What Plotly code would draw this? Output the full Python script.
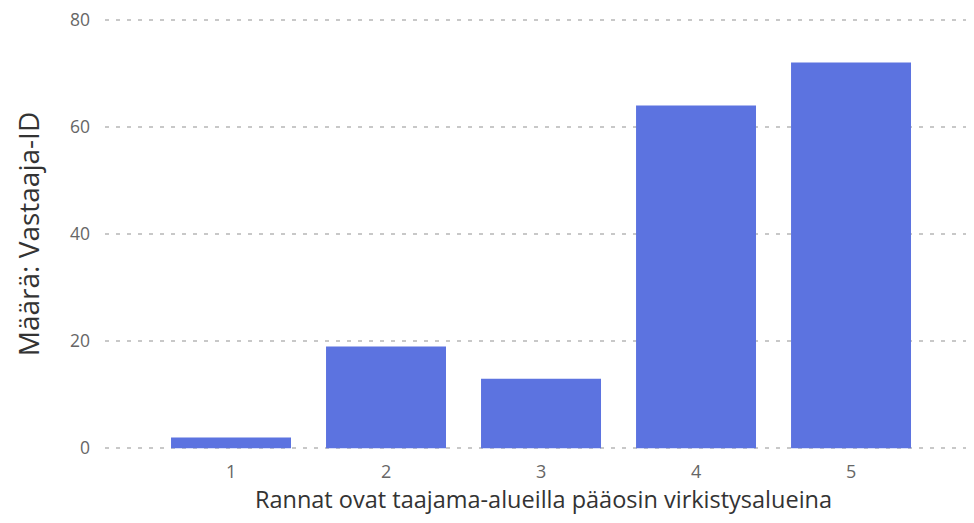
import plotly.graph_objects as go

categories = [1, 2, 3, 4, 5]
counts = [2, 19, 13, 64, 72]
y_ticks = [0, 20, 40, 60, 80]

fig = go.Figure(go.Bar(x=categories, y=counts, marker_color='#5c73e0', marker_line_width=0))

# page adds an 8px body margin, so margins are shifted to compensate
fig.update_layout(
    width=974, height=523,
    margin=dict(l=97, r=0, t=1, b=72),
    plot_bgcolor='white', paper_bgcolor='white',
    bargap=0.226,
    font=dict(family='Open Sans, sans-serif', color='#666'),
    showlegend=False,
)
fig.update_xaxes(
    range=[0.187, 5.845], tickvals=categories, ticktext=[str(c) for c in categories],
    showgrid=False, zeroline=False, showline=False, ticks='', automargin=False,
    tickfont=dict(size=18, color='#666'), ticklabelstandoff=0, ticklabeloverflow='allow',
    title=dict(text='Rannat ovat taajama-alueilla pääosin virkistysalueina',
               font=dict(size=23.5, color='#333'), standoff=9),
)
fig.update_yaxes(
    range=[-2, 82], tickvals=y_ticks, zeroline=False, showline=False, automargin=False,
    showgrid=True, gridcolor='#c8c8c8', gridwidth=2, griddash='4px,7px',
    tickfont=dict(size=17.5, color='#666'), ticklabelstandoff=14, ticklabeloverflow='allow',
    title=dict(text='Määrä: Vastaaja-ID', font=dict(size=28, color='#333'), standoff=22),
)

fig.write_html("out.html")
